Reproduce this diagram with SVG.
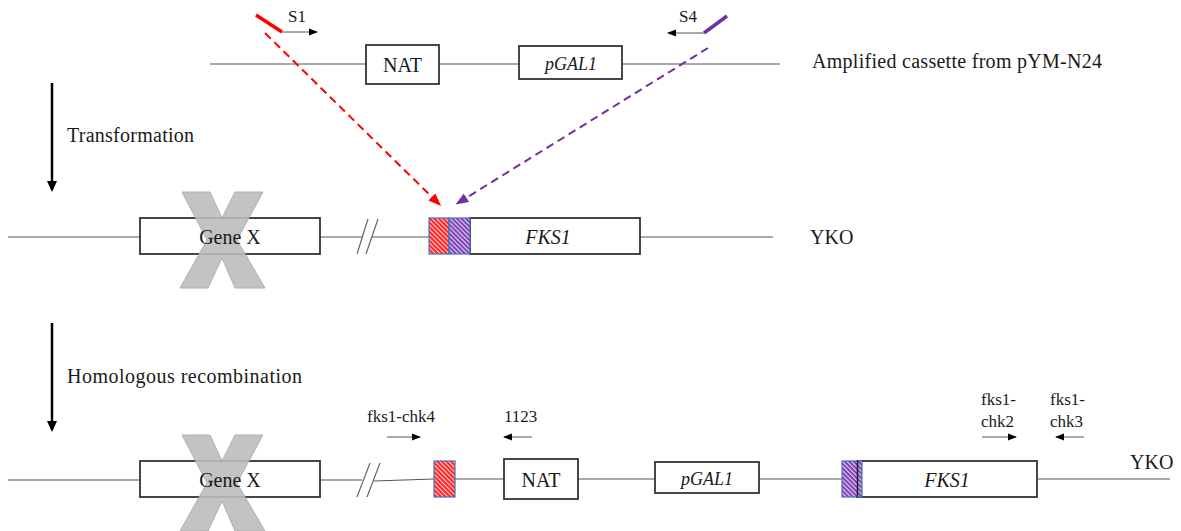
<svg xmlns="http://www.w3.org/2000/svg" width="1181" height="531" viewBox="0 0 1181 531">
  <style>
    text { font-family: "Liberation Serif", "Times New Roman", serif; fill: #1a1a1a; }
    .lbl { font-size: 20px; }
    .box-t { font-size: 20px; text-anchor: middle; }
    .it { font-style: italic; }
    .pr { font-size: 17px; }
    .dna { stroke: #555; stroke-width: 1.2; fill: none; }
    .box { fill: #fff; stroke: #333; stroke-width: 1.8; }
    .brk { stroke: #666; stroke-width: 1.2; }
    .hom { stroke: #4472c4; stroke-width: 1.2; }
    .ko { fill: #bdbdbd; stroke: #a8a8a8; stroke-width: 1; opacity: 0.9; }
    .primer { stroke: #555; stroke-width: 1; marker-end: url(#tipS); }
    .step { stroke: #000; stroke-width: 2.5; marker-end: url(#tipL); }
  </style>
  <defs>
    <marker id="tipS" markerUnits="userSpaceOnUse" markerWidth="9" markerHeight="8" refX="8" refY="4" orient="auto">
      <path d="M0,0.5 L9,4 L0,7.5 z" fill="#000"/>
    </marker>
    <marker id="tipL" markerUnits="userSpaceOnUse" markerWidth="12" markerHeight="12" refX="8" refY="6" orient="auto">
      <path d="M0,1 L11,6 L0,11 z" fill="#000"/>
    </marker>
    <marker id="tipRed" markerUnits="userSpaceOnUse" markerWidth="13" markerHeight="11" refX="10" refY="5.5" orient="auto">
      <path d="M0,0.5 L13,5.5 L0,10.5 z" fill="#ff0000"/>
    </marker>
    <marker id="tipPur" markerUnits="userSpaceOnUse" markerWidth="13" markerHeight="11" refX="10" refY="5.5" orient="auto">
      <path d="M0,0.5 L13,5.5 L0,10.5 z" fill="#7030a0"/>
    </marker>
    <!-- diagonal hatching for the homology regions -->
    <pattern id="hatchRed" patternUnits="userSpaceOnUse" width="3.2" height="3.2" patternTransform="rotate(-45)">
      <rect width="3.2" height="3.2" fill="#ff2424"/>
      <rect x="0" width="1.1" height="3.2" fill="#ffd6d6"/>
    </pattern>
    <pattern id="hatchPur" patternUnits="userSpaceOnUse" width="3.2" height="3.2" patternTransform="rotate(-45)">
      <rect width="3.2" height="3.2" fill="#7f3fb5"/>
      <rect x="0" width="1.1" height="3.2" fill="#e6d8f3"/>
    </pattern>
    <polygon id="cross" points="-40,-48 -12,-48 0,-22 13,-48 41,-48 15,0 43,48 13,48 0,18 -14,48 -42,48 -15,0"/>
  </defs>

  <!-- Row 1: amplified cassette -->
  <g id="cassette">
    <line class="dna" x1="210" y1="64" x2="780" y2="64"/>
    <g id="nat-top">
      <rect class="box" x="366" y="45" width="73" height="39"/>
      <text class="box-t" x="402.5" y="72">NAT</text>
    </g>
    <g id="pgal1-top">
      <rect class="box" x="519" y="46" width="103" height="33"/>
      <text class="box-t it" x="571" y="70" style="font-size:18px">pGAL1</text>
    </g>
    <text class="lbl" x="812" y="68" textLength="290">Amplified cassette from pYM-N24</text>
  </g>

  <g id="primer-s1">
    <line x1="256" y1="15" x2="282" y2="32" stroke="#ff0000" stroke-width="3.5"/>
    <line class="primer" x1="282" y1="32" x2="317" y2="32"/>
    <text class="pr" x="288" y="22">S1</text>
  </g>
  <g id="primer-s4">
    <line x1="727" y1="16" x2="704" y2="33" stroke="#7030a0" stroke-width="3.5"/>
    <line class="primer" x1="704" y1="33" x2="668" y2="33"/>
    <text class="pr" x="679" y="22">S4</text>
  </g>

  <!-- Step arrows -->
  <g id="step-transformation">
    <line class="step" x1="52" y1="83" x2="52" y2="189"/>
    <text class="lbl" x="67" y="142" textLength="127">Transformation</text>
  </g>
  <g id="step-recombination">
    <line class="step" x1="52" y1="323" x2="52" y2="429"/>
    <text class="lbl" x="67" y="383" textLength="235">Homologous recombination</text>
  </g>

  <!-- Row 2: YKO locus -->
  <g id="yko-locus">
    <line class="dna" x1="8" y1="237" x2="362" y2="237"/>
    <line class="dna" x1="372" y1="237" x2="773" y2="237"/>
    <line class="brk" x1="357" y1="254" x2="368" y2="219"/>
    <line class="brk" x1="366" y1="254" x2="378" y2="219"/>
    <text class="lbl" x="810" y="244">YKO</text>
  </g>
  <g id="genex-mid">
    <rect class="box" x="140" y="218" width="180" height="36"/>
    <use href="#cross" class="ko" x="222" y="240"/>
    <text class="box-t" x="230" y="244">Gene X</text>
  </g>
  <g id="fks1-mid">
    <rect class="box" x="470" y="218" width="170" height="36"/>
    <rect class="hom" x="429" y="218" width="20" height="36" fill="url(#hatchRed)"/>
    <rect class="hom" x="449" y="218" width="21" height="36" fill="url(#hatchPur)"/>
    <text class="box-t it" x="548" y="244">FKS1</text>
  </g>

  <!-- Row 3: recombined locus -->
  <g id="recombined-locus">
    <line class="dna" x1="8" y1="480" x2="362" y2="480"/>
    <line class="dna" x1="374" y1="481" x2="434" y2="479"/>
    <line class="dna" x1="455" y1="479" x2="1170" y2="479"/>
    <line class="brk" x1="357" y1="497" x2="370" y2="463"/>
    <line class="brk" x1="367" y1="497" x2="380" y2="463"/>
    <text class="lbl" x="1130" y="469">YKO</text>
  </g>
  <g id="genex-bottom">
    <rect class="box" x="140" y="461" width="180" height="36"/>
    <use href="#cross" class="ko" x="222" y="483"/>
    <text class="box-t" x="230" y="487">Gene X</text>
  </g>
  <g id="s1-homology">
    <rect class="hom" x="434" y="461" width="21" height="36" fill="url(#hatchRed)"/>
  </g>
  <g id="nat-bottom">
    <rect class="box" x="504" y="459" width="74" height="40"/>
    <text class="box-t" x="541" y="487">NAT</text>
  </g>
  <g id="pgal1-bottom">
    <rect class="box" x="655" y="462" width="104" height="31"/>
    <text class="box-t it" x="707" y="485" style="font-size:18px">pGAL1</text>
  </g>
  <g id="fks1-bottom">
    <rect class="box" x="857" y="461" width="180" height="36"/>
    <rect class="hom" x="842" y="461" width="20" height="36" fill="url(#hatchPur)"/>
    <line x1="857.5" y1="461" x2="857.5" y2="497" stroke="#222" stroke-width="1.5"/>
    <text class="box-t it" x="947" y="487">FKS1</text>
  </g>

  <!-- Check primers -->
  <g id="primer-chk4">
    <text class="pr" x="367" y="422">fks1-chk4</text>
    <line class="primer" x1="387" y1="437" x2="420" y2="437"/>
  </g>
  <g id="primer-1123">
    <text class="pr" x="504" y="422">1123</text>
    <line class="primer" x1="532" y1="437" x2="504" y2="437"/>
  </g>
  <g id="primer-chk2">
    <text class="pr" x="981" y="405">fks1-</text>
    <text class="pr" x="981" y="427">chk2</text>
    <line class="primer" x1="982" y1="437" x2="1016" y2="437"/>
  </g>
  <g id="primer-chk3">
    <text class="pr" x="1050" y="405">fks1-</text>
    <text class="pr" x="1050" y="427">chk3</text>
    <line class="primer" x1="1084" y1="437" x2="1056" y2="437"/>
  </g>

  <!-- Targeting connectors -->
  <g id="connectors">
    <line x1="265" y1="33" x2="439" y2="204" stroke="#ff0000" stroke-width="2" stroke-dasharray="8,5" marker-end="url(#tipRed)"/>
    <line x1="708" y1="48" x2="458" y2="203" stroke="#7030a0" stroke-width="2" stroke-dasharray="8,5" marker-end="url(#tipPur)"/>
  </g>
</svg>
